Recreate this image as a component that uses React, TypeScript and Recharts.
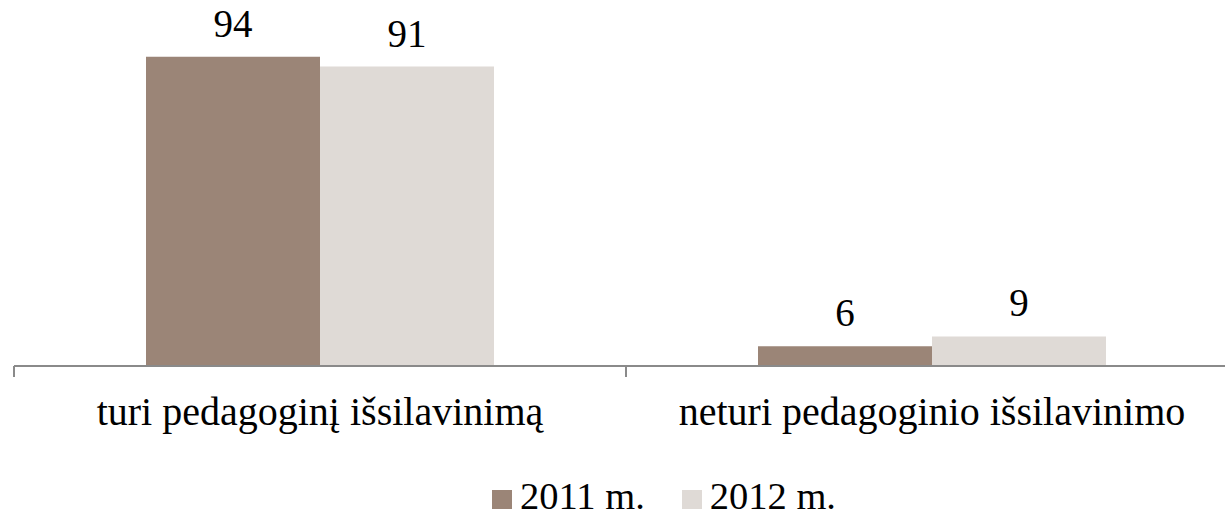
import React from "react";
import { BarChart, Bar, XAxis, YAxis, LabelList, Legend } from "recharts";

const categories = ["turi pedagoginį išsilavinimą", "neturi pedagoginio išsilavinimo"];
const values2011 = [94, 6];
const values2012 = [91, 9];
const seriesNames = ["2011 m.", "2012 m."];
const seriesColors = ["#9B8577", "#DFDAD6"];

const data = categories.map((c, i) => ({
  category: c,
  y2011: values2011[i],
  y2012: values2012[i],
}));

const FONT = '"Liberation Serif", "Times New Roman", serif';

const CategoryTick = (props: any) => {
  const { x, y, payload, index } = props;
  const half = payload && typeof payload.offset === "number" && payload.offset > 0 ? payload.offset : 306;
  const last = index === categories.length - 1;
  return (
    <g>
      <line x1={x - half} y1={y} x2={x - half} y2={y + 11} stroke="#8A8A8A" strokeWidth={2} />
      {last && <line x1={x + half} y1={y} x2={x + half} y2={y + 11} stroke="#8A8A8A" strokeWidth={2} />}
      <text x={x} y={y + 59} textAnchor="middle" fill="#000" fontSize={40} fontFamily={FONT}>
        {payload.value}
      </text>
    </g>
  );
};

const LegendContent = (props: any) => {
  const payload = props.payload || [];
  return (
    <div style={{ display: "flex", alignItems: "flex-start", height: 39, fontFamily: FONT }}>
      {payload.map((p: any, i: number) => (
        <div key={i} style={{ display: "flex", alignItems: "flex-start", marginRight: 37 }}>
          <div style={{ width: 20, height: 19, marginTop: 13.5, background: p.color, marginRight: 8 }} />
          <span style={{ fontSize: 38.5, lineHeight: "39px", color: "#000", whiteSpace: "nowrap" }}>{p.value}</span>
        </div>
      ))}
    </div>
  );
};

export default function App() {
  return (
    <div style={{ position: "absolute", left: 0, top: 0, width: 1225, height: 515, overflow: "hidden", background: "#fff" }}>
      <BarChart
        width={1250}
        height={515}
        data={data}
        margin={{ top: 37, right: 12, left: 14, bottom: 119 }}
        barCategoryGap={132}
        barGap={0}
        style={{ fontFamily: FONT }}
      >
        <XAxis
          dataKey="category"
          height={30}
          axisLine={{ stroke: "#8A8A8A", strokeWidth: 2 }}
          tickLine={false}
          tickSize={0}
          tickMargin={0}
          tick={<CategoryTick />}
          interval={0}
        />
        <YAxis hide domain={[0, 100]} />
        <Legend
          verticalAlign="middle"
          align="center"
          layout="horizontal"
          content={<LegendContent />}
          wrapperStyle={{ top: 476.5, left: 492, width: 500, height: 39 }}
        />
        <Bar dataKey="y2011" name={seriesNames[0]} fill={seriesColors[0]} isAnimationActive={false}>
          <LabelList dataKey="y2011" position="top" offset={20} fill="#000" fontSize={39} fontFamily={FONT} />
        </Bar>
        <Bar dataKey="y2012" name={seriesNames[1]} fill={seriesColors[1]} isAnimationActive={false}>
          <LabelList dataKey="y2012" position="top" offset={20} fill="#000" fontSize={39} fontFamily={FONT} />
        </Bar>
      </BarChart>
    </div>
  );
}
